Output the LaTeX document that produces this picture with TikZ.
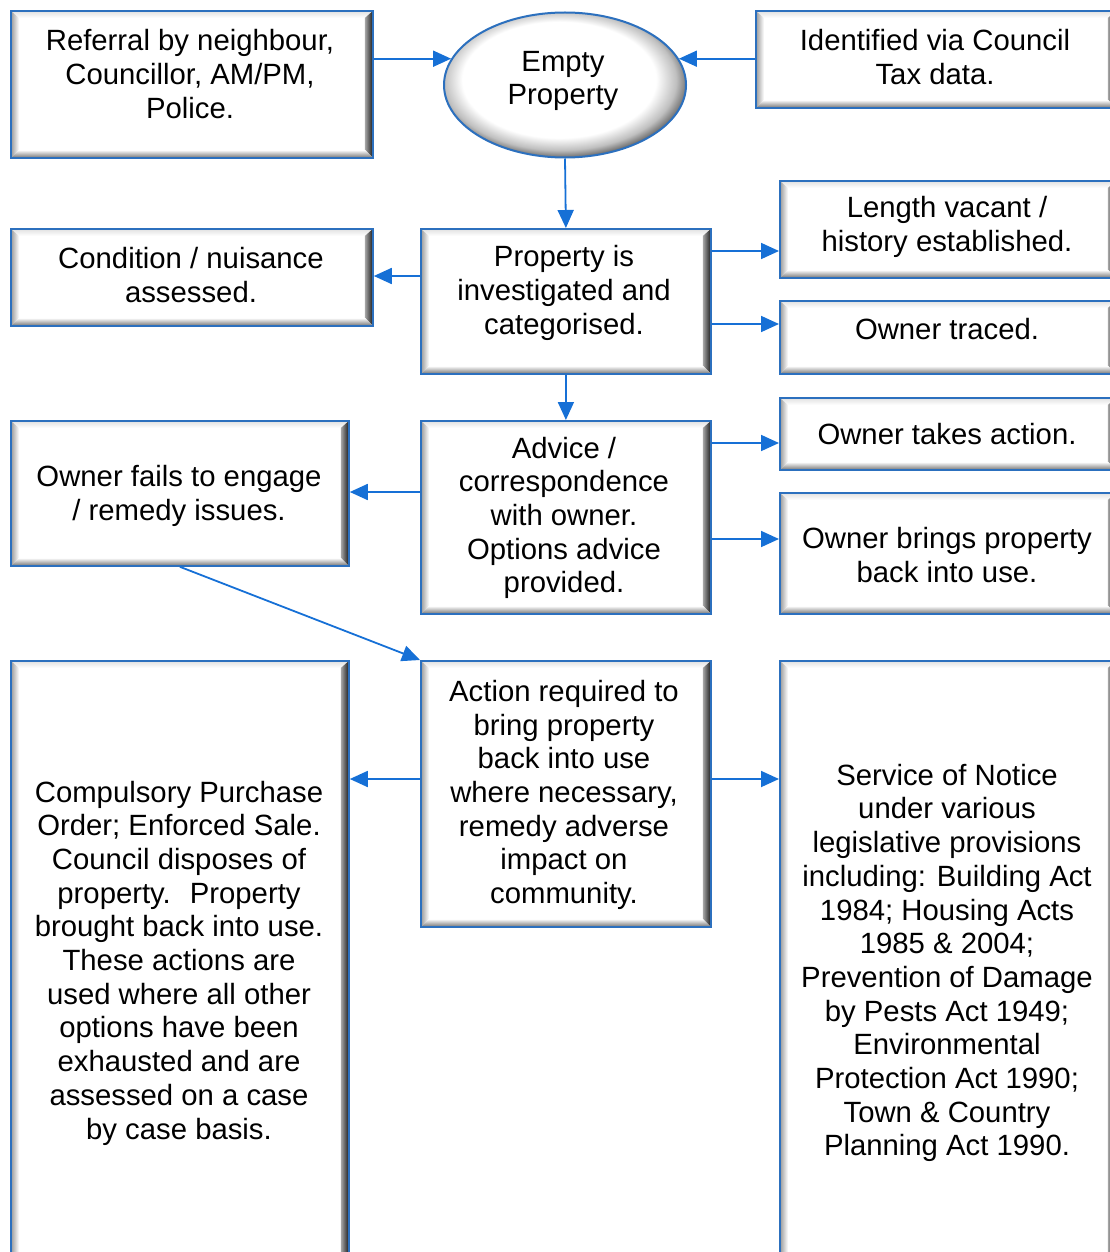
\documentclass[tikz,border=0pt]{standalone}
\usepackage{fontspec}
\setmainfont{Liberation Sans}
\usetikzlibrary{shapes.geometric,arrows.meta}
\definecolor{boxblue}{RGB}{44,112,190}
\definecolor{arrblue}{RGB}{22,112,214}
\pgfdeclareradialshading{ellshade}{\pgfpoint{-2bp}{3bp}}{color(0bp)=(white); color(20bp)=(white); color(24bp)=(black!25); color(27bp)=(black!65); color(50bp)=(black!65)}
\tikzset{
  bevelbox/.style={rectangle, draw=boxblue, line width=1.8pt, fill=white, inner sep=0pt, anchor=north west,
    path picture={
      \coordinate (qnw) at (path picture bounding box.north west);
      \coordinate (qne) at (path picture bounding box.north east);
      \coordinate (qsw) at (path picture bounding box.south west);
      \coordinate (qse) at (path picture bounding box.south east);
      \shade[top color=black!12, bottom color=white] (qnw) -- (qne) -- ([xshift=-8pt,yshift=-7pt]qne) -- ([xshift=8pt,yshift=-7pt]qnw) -- cycle;
      \shade[left color=black!40, right color=white] (qnw) -- ([xshift=8pt,yshift=-7pt]qnw) -- ([xshift=8pt,yshift=8pt]qsw) -- (qsw) -- cycle;
      \shade[left color=black!35, right color=black!90] (qne) -- (qse) -- ([xshift=-8pt,yshift=8pt]qse) -- ([xshift=-8pt,yshift=-7pt]qne) -- cycle;
      \shade[top color=white, bottom color=black!55] (qsw) -- ([xshift=8pt,yshift=8pt]qsw) -- ([xshift=-8pt,yshift=8pt]qse) -- (qse) -- cycle;
    }},
  ellbox/.style={ellipse, draw=boxblue, line width=2pt, shading=ellshade, inner sep=0pt},
  txt/.style={align=center, inner sep=0pt, text=black, font=\fontsize{29.3}{33.7}\selectfont},
  arr/.style={draw=arrblue, line width=1.8pt, -{Triangle[length=18pt,width=16pt]}, arrblue}
}
\begin{document}
\begin{tikzpicture}[x=1pt,y=-1pt]
\useasboundingbox (0,0) rectangle (1110,1252);
% boxes
\node[bevelbox, minimum width=362, minimum height=147] (ref) at (10,10) {};
\node[ellbox, minimum width=242, minimum height=145] (emp) at (565,85) {};
\node[bevelbox, minimum width=360, minimum height=97] (ide) at (755,10) {};
\node[bevelbox, minimum width=362, minimum height=97] (cond) at (10,228) {};
\node[bevelbox, minimum width=290, minimum height=145] (inv) at (420,228) {};
\node[bevelbox, minimum width=336, minimum height=97] (len) at (779,180) {};
\node[bevelbox, minimum width=336, minimum height=73] (trc) at (779,300) {};
\node[bevelbox, minimum width=338, minimum height=145] (fail) at (10,420) {};
\node[bevelbox, minimum width=290, minimum height=193] (adv) at (420,420) {};
\node[bevelbox, minimum width=336, minimum height=72] (tak) at (779,397) {};
\node[bevelbox, minimum width=336, minimum height=121] (brg) at (779,492) {};
\node[bevelbox, minimum width=338, minimum height=610] (cpo) at (10,660) {};
\node[bevelbox, minimum width=290, minimum height=266] (act) at (420,660) {};
\node[bevelbox, minimum width=336, minimum height=610] (svc) at (779,660) {};
% texts
\node[txt] (tref) at (190,74) {Referral by neighbour,\\Councillor, AM/PM,\\Police.};
\node[txt] (temp) at (563,81) {Empty\\Property};
\node[txt] (tide) at (935,57) {Identified via Council\\Tax data.};
\node[txt] (tcond) at (191,275) {Condition / nuisance\\assessed.};
\node[txt] (tinv) at (564,293) {Property is\\investigated and\\categorised.};
\node[txt] (tlen) at (947,227) {Length vacant /\\history established.};
\node[txt] (ttrc) at (947,329) {Owner traced.};
\node[txt] (ttak) at (947,434) {Owner takes action.};
\node[txt] (tbrg) at (947,555) {Owner brings property\\back into use.};
\node[txt] (tfail) at (179,496) {Owner fails to engage\\/ remedy issues.};
\node[txt] (tadv) at (564,518) {Advice /\\correspondence\\with owner.\\Options advice\\provided.};
\node[txt] (tact) at (564,795) {Action required to\\bring property\\back into use\\where necessary,\\remedy adverse\\impact on\\community.};
\node[txt] (tcpo) at (179,963) {Compulsory Purchase\\Order; Enforced Sale.\\Council disposes of\\property.~ Property\\brought back into use.\\These actions are\\used where all other\\options have been\\exhausted and are\\assessed on a case\\by case basis.};
\node[txt] (tsvc) at (947,963) {Service of Notice\\under various\\legislative provisions\\including: Building Act\\1984; Housing Acts\\1985 \& 2004;\\Prevention of Damage\\by Pests Act 1949;\\Environmental\\Protection Act 1990;\\Town \& Country\\Planning Act 1990.};
% helper levels
\coordinate (y251) at (0,251);
\coordinate (y276) at (0,276);
\coordinate (y324) at (0,324);
\coordinate (y443) at (0,443);
\coordinate (y492) at (0,492);
\coordinate (y539) at (0,539);
\coordinate (y779) at (0,779);
% connectors
\draw[arr] (ref.east |- emp.167) -- (emp.167);
\draw[arr] (ide.west |- emp.13) -- (emp.13);
\draw[arr] (emp.south) -- (inv.north);
\draw[arr] (inv.west |- y276) -- (cond.east |- y276);
\draw[arr] (inv.east |- y251) -- (len.west |- y251);
\draw[arr] (inv.east |- y324) -- (trc.west |- y324);
\draw[arr] (inv.south) -- (adv.north);
\draw[arr] (adv.west |- y492) -- (fail.east |- y492);
\draw[arr] (adv.east |- y443) -- (tak.west |- y443);
\draw[arr] (adv.east |- y539) -- (brg.west |- y539);
\draw[arr] (fail.south) -- (act.north west);
\draw[arr] (act.west |- y779) -- (cpo.east |- y779);
\draw[arr] (act.east |- y779) -- (svc.west |- y779);
\end{tikzpicture}
\end{document}
